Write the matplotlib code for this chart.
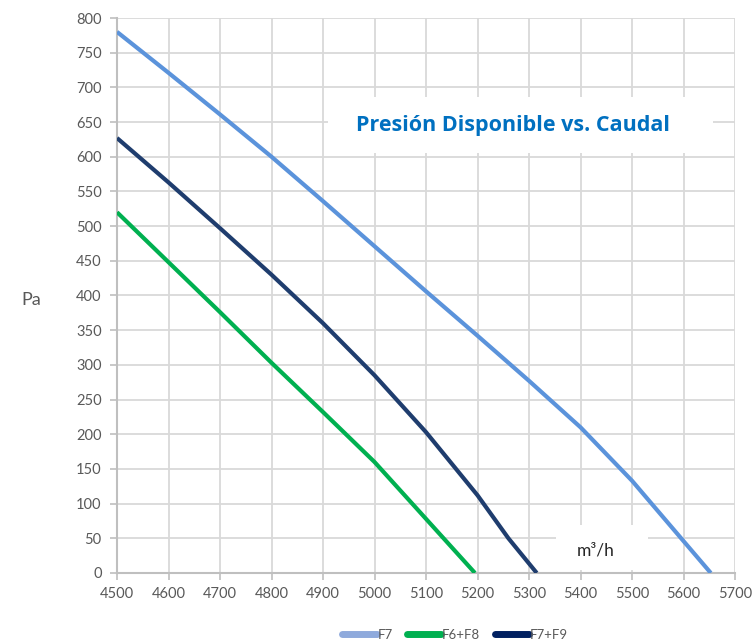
import matplotlib.pyplot as plt
from matplotlib.lines import Line2D
from matplotlib.patches import Rectangle

# Data
x_f7 = [4500, 4600, 4700, 4800, 4900, 5000, 5100, 5200, 5300, 5400, 5500, 5600, 5653]
y_f7 = [780, 721, 661, 600, 536, 471, 406, 342, 277, 210, 133, 46, 0]

x_f6f8 = [4500, 4600, 4700, 4800, 4900, 5000, 5100, 5195]
y_f6f8 = [520, 448, 376, 303, 232, 160, 78, 0]

x_f7f9 = [4500, 4600, 4700, 4800, 4900, 5000, 5100, 5200, 5260, 5315]
y_f7f9 = [627, 563, 497, 430, 360, 285, 203, 112, 50, 0]

labels = ['F7', 'F6+F8', 'F7+F9']
line_colors = ['#5b93db', '#00b050', '#1f3d6e']
legend_colors = ['#8faadc', '#00b050', '#002060']

plt.rcParams['font.family'] = ['Lato', 'DejaVu Sans']

fig = plt.figure(figsize=(7.52, 6.43), dpi=100)
ax = fig.add_axes([0.1556, 0.1089, 0.8218, 0.8631])

ax.plot(x_f7, y_f7, color=line_colors[0], lw=3, solid_capstyle='butt', zorder=3)
ax.plot(x_f6f8, y_f6f8, color=line_colors[1], lw=3, solid_capstyle='butt', zorder=3)
ax.plot(x_f7f9, y_f7f9, color=line_colors[2], lw=3, solid_capstyle='butt', zorder=3)

ax.set_xlim(4500, 5700)
ax.set_ylim(0, 800)
ax.set_xticks(range(4500, 5701, 100))
ax.set_yticks(range(0, 801, 50))

ax.grid(True, color='#d9d9d9', lw=1.3, zorder=0)
ax.set_axisbelow(True)
for s in ['top', 'right']:
    ax.spines[s].set_visible(False)
for s in ['left', 'bottom']:
    ax.spines[s].set_color('#bfbfbf')
    ax.spines[s].set_linewidth(1.5)
ax.tick_params(colors='#bfbfbf', length=5, width=1.2, labelcolor='#595959', labelsize=10.5)
ax.tick_params(axis='x', pad=5)
ax.tick_params(axis='y', pad=6)

# Title box inside the plot
ax.add_patch(Rectangle((0.342, 0.757), 0.622, 0.101, transform=ax.transAxes,
                       facecolor='white', edgecolor='none', zorder=1))
ax.text(0.64, 0.807, 'Presión Disponible vs. Caudal', transform=ax.transAxes,
        ha='center', va='center', fontsize=15.5, fontweight='bold', color='#0070c0',
        family=['Open Sans', 'DejaVu Sans'], zorder=4)

# Axis unit labels
ax.add_patch(Rectangle((0.71, 0.006), 0.149, 0.08, transform=ax.transAxes,
                       facecolor='white', edgecolor='none', zorder=1))
ax.text(0.775, 0.04, 'm³/h', transform=ax.transAxes, ha='center', va='center',
        fontsize=12.5, color='#262626', zorder=4)
fig.text(0.042, 0.533, 'Pa', ha='center', va='center', fontsize=13, color='#595959')

handles = [Line2D([], [], color=c, lw=5, solid_capstyle='round') for c in legend_colors]
fig.legend(handles, labels, loc='center', bbox_to_anchor=(0.605, 0.013), ncol=3,
           frameon=False, fontsize=9.5, handlelength=2.6, handletextpad=0.05,
           columnspacing=1.1, labelcolor='#595959')

fig.savefig('out.png', dpi=100)
